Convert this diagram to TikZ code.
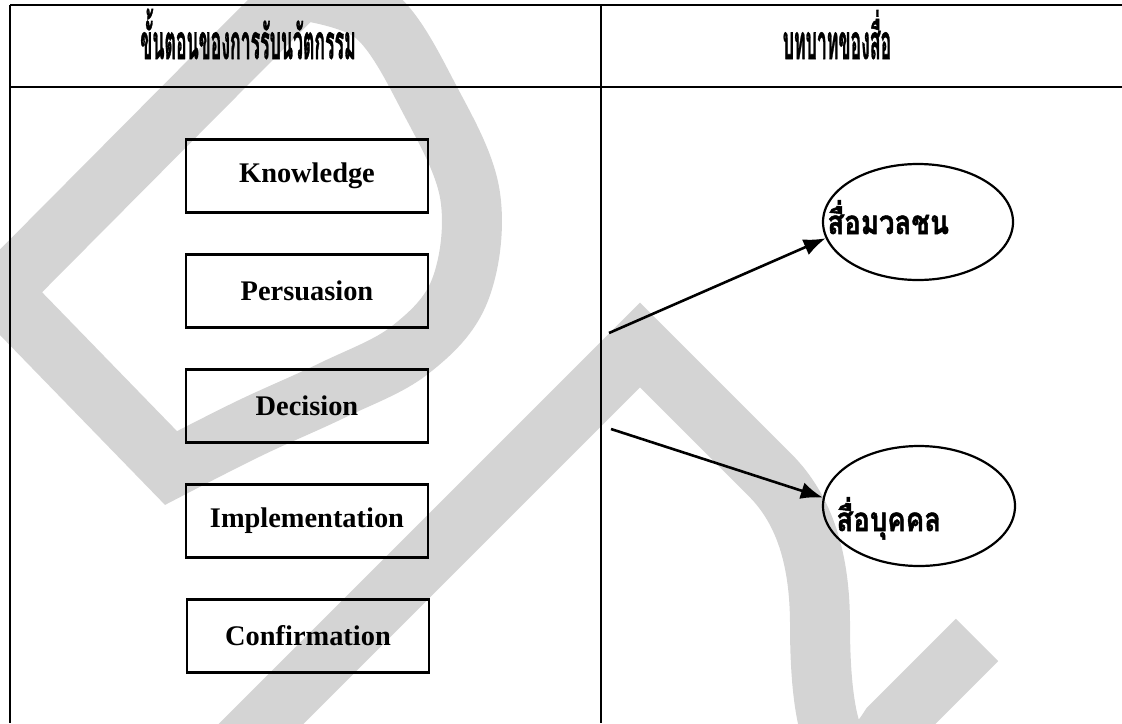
\documentclass[tikz,border=0pt]{standalone}
\usepackage{fontspec}
\setmainfont{Liberation Serif}
\newfontfamily\thaifont[Script=Thai, FakeBold=1.5]{Loma}
\usepackage{graphicx}
\usetikzlibrary{positioning, shapes.geometric, arrows.meta}

\tikzset{
  stage/.style={draw, line width=1.4pt, minimum width=121pt, minimum height=36.5pt,
    inner sep=0pt, font=\fontsize{14.2}{16}\selectfont\bfseries},
  medium/.style={draw, ellipse, line width=1.1pt, inner sep=0pt},
  mtext/.style={anchor=base west, inner sep=0pt},
  htext/.style={anchor=base, inner sep=0pt},
  wm/.style={draw=black!17, line width=30pt, line join=miter},
  rule/.style={line width=1pt},
  arr/.style={-{Latex[length=11pt,width=8.5pt]}, line width=1.3pt}
}
\newcommand{\thaihead}[1]{\scalebox{0.52}[1.4]{\thaifont\bfseries\fontsize{17}{20}\selectfont #1}}
\newcommand{\thaimed}[1]{\scalebox{0.92}[1.1]{\thaifont\bfseries\fontsize{15}{18}\selectfont #1}}

\begin{document}
\begin{tikzpicture}[x=0.5pt, y=-0.5pt]
\useasboundingbox (0,0) rectangle (1122,723);
% watermark
\begin{scope}
\clip (0,0) rectangle (1122,723);
\draw[wm] (0,292) -- plot[smooth, tension=0.6] coordinates {(300,-10) (375,15) (430,100)
  (470,195) (460,290) (410,350) (333,390) (250,428) (171,468)} -- cycle;
\draw[wm] (215,770) -- (640,345) -- (770,475) .. controls (805,510) and (820,560) .. (820,625)
  .. controls (820,760) and (850,790) .. (890,727) -- (977,640);
\end{scope}
% table
\draw[rule] (10,5) -- (1122,5);
\draw[rule] (10,87) -- (1122,87);
\draw[rule] (10,5) -- (10,723);
\draw[rule] (601,5) -- (601,723);
\node[htext] (headl) at (248,59) {\thaihead{ขั้นตอนของการรับนวัตกรรม}};
\node[htext] (headr) at (837,59) {\thaihead{บทบาทของสื่อ}};
% stages
\node[stage] (know) at (307,176) {Knowledge};
\node[stage] (pers) at (307,291) {Persuasion};
\node[stage] (deci) at (307,406) {Decision};
\node[stage] (impl) at (307,521) {Implementation};
\node[stage] (conf) at (308,636) {Confirmation};
% media
\node[medium, minimum width=95pt, minimum height=58pt] (mass) at (918,222) {};
\node[medium, minimum width=96pt, minimum height=60pt] (person) at (919,506) {};
\node[mtext] (masstxt) at (827,234) {\thaimed{สื่อมวลชน}};
\node[mtext] (persontxt) at (836,531) {\thaimed{สื่อบุคคล}};
\coordinate (out1) at (609,333);
\coordinate (out2) at (611,429);
\draw[arr] (out1) -- (mass.190);
\draw[arr] (out2) -- (person.175);
\end{tikzpicture}
\end{document}
